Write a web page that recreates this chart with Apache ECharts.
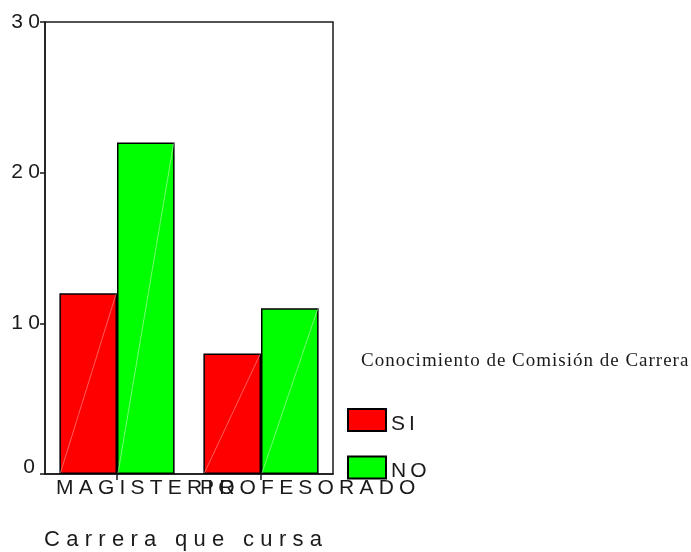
<!DOCTYPE html>
<html>
<head>
<meta charset="utf-8">
<script src="https://cdn.jsdelivr.net/npm/echarts@6/dist/echarts.min.js"></script>
<style>
  html, body { margin: 0; padding: 0; background: #fff; }
  #chart { width: 691px; height: 552px; }
</style>
</head>
<body>
<div id="chart"></div>
<script>
// Data
const categories = ['MAGISTERIO', 'PROFESORADO'];
const seriesNames = ['SI', 'NO'];
const siValues = [12, 8];
const noValues = [22, 11];
const yMin = 0;
const yMax = 30;
const yStep = 10;
const legendTitle = 'Conocimiento de Comisión de Carrera';
const xAxisTitle = 'Carrera que cursa';

// Styling
const SANS = '"Liberation Sans", Arial, sans-serif';
const SERIF = '"Liberation Serif", "Times New Roman", serif';
const INK = '#1a1a1a';
const axisFont = 21;
const axisSpacing = 5.2;
const labelLead = 61; // text start sits this far left of the category tick
const barShare = 0.8;  // part of each category band taken by its bars

// Letter-spaced text: each character is its own rich token; every
// character after the first gets extra room on its left.
function spaced(text, key) {
  return Array.from(text).map((c, i) => '{' + key + (i ? 'R' : 'F') + '|' + c + '}').join('');
}
function spacedStyles(key, base, gap, pad) {
  const p = pad || [0, 0, 0, 0];
  const s = {};
  s[key + 'F'] = Object.assign({ fontWeight: 'normal' }, base, { padding: p.slice() });
  s[key + 'R'] = Object.assign({ fontWeight: 'normal' }, base, { padding: [p[0], p[1], p[2], p[3] + gap] });
  return s;
}
const measureCtx = document.createElement('canvas').getContext('2d');
function spacedWidth(text, size, family, gap) {
  measureCtx.font = size + 'px ' + family;
  const chars = Array.from(text);
  return chars.reduce((w, c) => w + measureCtx.measureText(c).width, 0) + gap * (chars.length - 1);
}

// Category labels: a leading blank box shifts each centred label so its
// first letter starts a fixed distance left of its tick.
const xRich = spacedStyles('x', { fontFamily: SANS, fontSize: axisFont, color: INK }, axisSpacing);
categories.forEach((c, i) => {
  const w = spacedWidth(c, axisFont, SANS, axisSpacing);
  xRich['pad' + i] = { width: Math.max(0, w - 2 * labelLead), fontSize: axisFont, fontFamily: SANS };
});

const yRich = Object.assign(
  spacedStyles('y', { fontFamily: SANS, fontSize: axisFont, color: INK }, 5.3),
  { z: { fontFamily: SANS, fontSize: axisFont, color: INK, padding: [0, 5, 14, 0] } }
);

// Faint diagonal sheen across each bar, from its bottom-left to its top-right corner.
const sheenData = [];
[siValues, noValues].forEach((vals, s) => vals.forEach((v, c) => sheenData.push([c, v, s])));
function renderSheen(params, api) {
  const cat = api.value(0);
  const top = api.coord([cat, api.value(1)]);
  const base = api.coord([cat, 0]);
  const barW = api.size([1, 0])[0] * barShare / 2;
  const s = api.value(2);
  const x0 = top[0] - barW + s * barW;
  return {
    type: 'line',
    shape: { x1: x0 + 1, y1: base[1] - 1, x2: x0 + barW - 1, y2: top[1] + 1 },
    style: { stroke: s === 0 ? 'rgba(255,170,170,0.55)' : 'rgba(190,255,190,0.6)', lineWidth: 1 },
    silent: true
  };
}

const chart = echarts.init(document.getElementById('chart'), null, { renderer: 'canvas' });

chart.setOption({
  animation: false,
  backgroundColor: '#fff',
  title: {
    text: spaced(legendTitle, 't'),
    left: 361,
    top: 352,
    padding: 0,
    textStyle: {
      fontWeight: 'normal',
      rich: spacedStyles('t', { fontFamily: SERIF, fontSize: 19, color: INK }, 1)
    }
  },
  legend: {
    orient: 'vertical',
    left: 347,
    top: 408,
    padding: 0,
    itemWidth: 38,
    itemHeight: 22,
    itemGap: 21,
    icon: 'rect',
    data: seriesNames,
    formatter: name => spaced(name, 'l'),
    textStyle: {
      rich: spacedStyles('l', { fontFamily: SANS, fontSize: axisFont, color: INK }, 4, [8, 0, 0, 0])
    }
  },
  grid: {
    left: 45,
    right: 358,
    top: 22,
    bottom: 78,
    containLabel: false,
    outerBoundsMode: 'none',
    show: true,
    borderColor: INK,
    borderWidth: 1.5,
    backgroundColor: '#fff'
  },
  xAxis: {
    type: 'category',
    data: categories,
    name: spaced(xAxisTitle, 'n'),
    nameLocation: 'middle',
    nameGap: 55,
    nameTextStyle: {
      padding: [0, 12, 0, 0],
      rich: spacedStyles('n', { fontFamily: SANS, fontSize: 22, color: INK }, 6.3)
    },
    axisLine: { show: true, lineStyle: { color: INK, width: 1.5 } },
    axisTick: { show: true, alignWithLabel: true, length: 6, lineStyle: { color: INK, width: 1.5 } },
    axisLabel: {
      interval: 0,
      margin: 4,
      formatter: (value, index) => '{pad' + index + '| }' + spaced(value, 'x'),
      rich: xRich
    },
    splitLine: { show: false }
  },
  yAxis: {
    type: 'value',
    min: yMin,
    max: yMax,
    interval: yStep,
    axisLine: { show: true, lineStyle: { color: INK, width: 1.5 } },
    axisTick: { show: true, length: 5, lineStyle: { color: INK, width: 1.5 } },
    axisLabel: {
      margin: 5,
      formatter: v => (v === 0 ? '{z|0}' : spaced(String(v), 'y')),
      rich: yRich
    },
    splitLine: { show: false }
  },
  series: [
    {
      name: seriesNames[0],
      type: 'bar',
      data: siValues,
      barGap: '0%',
      barCategoryGap: '20%',
      itemStyle: { color: '#ff0000', borderColor: '#000', borderWidth: 1.5 }
    },
    {
      name: seriesNames[1],
      type: 'bar',
      data: noValues,
      barGap: '0%',
      barCategoryGap: '20%',
      itemStyle: { color: '#00ff00', borderColor: '#000', borderWidth: 1.5 }
    },
    {
      name: 'sheen',
      type: 'custom',
      data: sheenData,
      renderItem: renderSheen,
      silent: true,
      z: 3,
      tooltip: { show: false }
    }
  ]
});
</script>
</body>
</html>
